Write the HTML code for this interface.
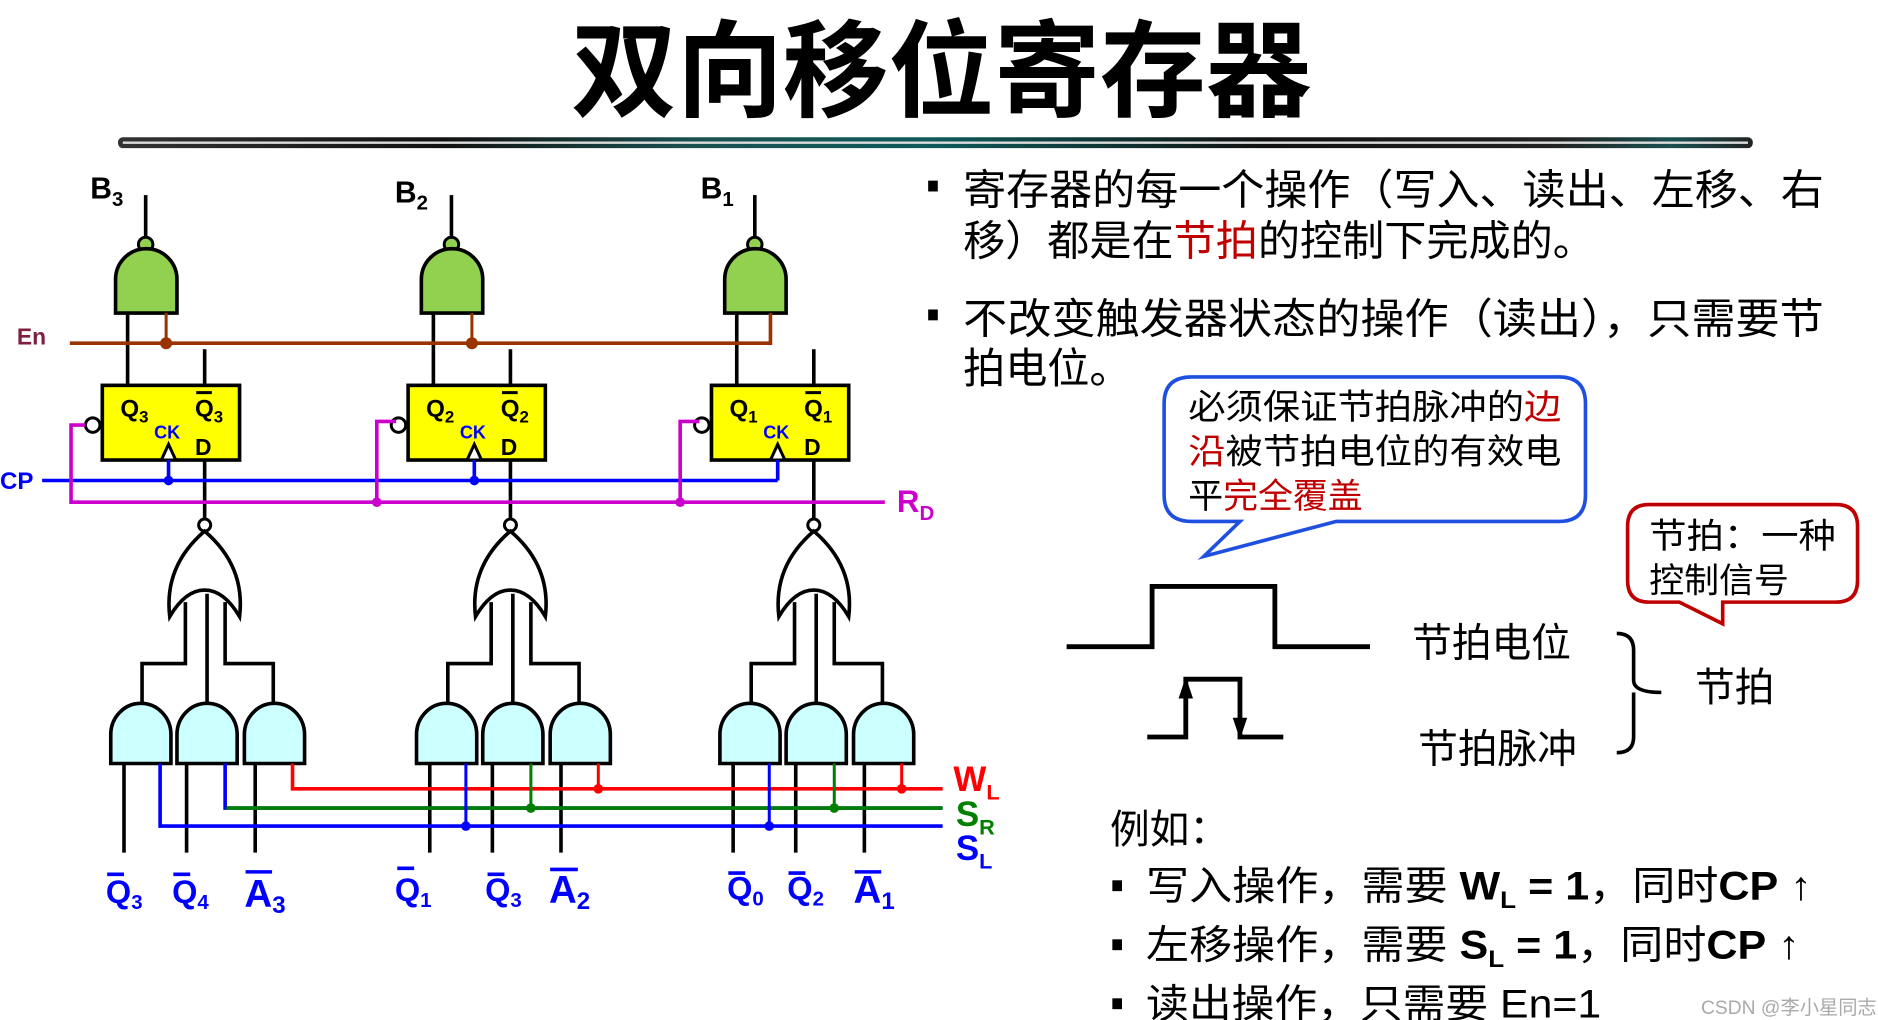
<!DOCTYPE html>
<html><head><meta charset="utf-8"><style>
html,body{margin:0;padding:0;background:#fff;width:1878px;height:1020px;overflow:hidden}
svg{display:block}
text{font-family:"Liberation Sans","Noto Sans CJK SC",sans-serif}
.cj{font-family:"Liberation Sans","Noto Sans CJK SC",sans-serif}
.b{font-weight:bold}
</style></head><body>
<svg width="1878" height="1020" viewBox="0 0 1560 847" preserveAspectRatio="none" xmlns="http://www.w3.org/2000/svg">
<defs>
<linearGradient id="bar" x1="0" x2="1" y1="0" y2="0">
<stop offset="0" stop-color="#333"/><stop offset="0.2" stop-color="#111"/><stop offset="0.35" stop-color="#1a5050"/><stop offset="0.5" stop-color="#0e5a5a"/><stop offset="0.7" stop-color="#111"/><stop offset="0.88" stop-color="#222"/><stop offset="0.95" stop-color="#1a5050"/><stop offset="1" stop-color="#222"/>
</linearGradient>
<g id="blk">
 <line x1="121" y1="162" x2="121" y2="198" stroke="#000" stroke-width="3"/>
 <circle cx="121" cy="203" r="6" fill="#92d050" stroke="#000" stroke-width="2.5"/>
 <path d="M96,260 V232 A25.5,25.5 0 0 1 147,232 V260 Z" fill="#92d050" stroke="#000" stroke-width="3"/>
 <line x1="106" y1="260" x2="106" y2="320" stroke="#000" stroke-width="3"/>
 <line x1="170" y1="290" x2="170" y2="320" stroke="#000" stroke-width="3"/>
 <rect x="85" y="320" width="114" height="62" fill="#ffff00" stroke="#000" stroke-width="3"/>
 <circle cx="77" cy="353" r="6" fill="#fff" stroke="#000" stroke-width="2.5"/>
 <path d="M134,382 L140,369 L146,382 Z" fill="#fff" stroke="#000" stroke-width="2.5"/>
 <line x1="140" y1="382" x2="140" y2="399" stroke="#0000ff" stroke-width="3"/>
 <text x="128" y="364" font-size="15" fill="#0000ff" class="b">CK</text>
 <text x="162" y="378" font-size="19" class="b">D</text>
 <line x1="170" y1="382" x2="170" y2="430" stroke="#000" stroke-width="3"/>
 <circle cx="170" cy="436" r="5" fill="#fff" stroke="#000" stroke-width="2.5"/>
 <path d="M141,512 Q136,470 170,441 Q204,470 199,512 Q186,490 170,490 Q154,490 141,512 Z" fill="#fff" stroke="#000" stroke-width="3"/>
 <path d="M154,500 V551 H118 V588 M172,493 V588 M187,500 V551 H227 V588" fill="none" stroke="#000" stroke-width="3"/>
 <path d="M92,634 V610 A25,26 0 0 1 142,610 V634 Z" fill="#ccffff" stroke="#000" stroke-width="3"/>
 <path d="M147,634 V610 A25,26 0 0 1 197,610 V634 Z" fill="#ccffff" stroke="#000" stroke-width="3"/>
 <path d="M203,634 V610 A25,26 0 0 1 253,610 V634 Z" fill="#ccffff" stroke="#000" stroke-width="3"/>
 <path d="M103,634 V708 M155,634 V708 M212,634 V708" stroke="#000" stroke-width="3"/>
</g>
</defs>

<text x="782" y="90" font-size="88" text-anchor="middle" class="cj b" textLength="615" lengthAdjust="spacingAndGlyphs">双向移位寄存器</text>
<rect x="98" y="114" width="1358" height="9" rx="4" fill="url(#bar)"/>
<line x1="102" y1="118.5" x2="1452" y2="118.5" stroke="#ddd" stroke-width="2"/>

<use href="#blk"/>
<use href="#blk" transform="translate(254,0)"/>
<use href="#blk" transform="translate(506,0)"/>

<text x="75" y="165" font-size="25" class="b">B<tspan font-size="17" dy="6">3</tspan></text>
<text x="328" y="168" font-size="25" class="b">B<tspan font-size="17" dy="6">2</tspan></text>
<text x="582" y="165" font-size="25" class="b">B<tspan font-size="17" dy="6">1</tspan></text>

<g font-size="20" class="b">
<text x="100" y="346">Q<tspan font-size="14" dy="5">3</tspan></text>
<text x="162" y="346">Q<tspan font-size="14" dy="5">3</tspan></text>
<text x="354" y="346">Q<tspan font-size="14" dy="5">2</tspan></text>
<text x="416" y="346">Q<tspan font-size="14" dy="5">2</tspan></text>
<text x="606" y="346">Q<tspan font-size="14" dy="5">1</tspan></text>
<text x="668" y="346">Q<tspan font-size="14" dy="5">1</tspan></text>
</g>
<path d="M163,326 H176 M417,326 H430 M669,326 H682" stroke="#000" stroke-width="2.5"/>

<path d="M138,260 V285 M392,260 V285" stroke="#993300" stroke-width="2.5"/>
<path d="M58,285 H640 V260" fill="none" stroke="#993300" stroke-width="3"/>
<circle cx="138" cy="285" r="5" fill="#993300"/><circle cx="392" cy="285" r="5" fill="#993300"/>
<text x="14" y="286" font-size="19" fill="#7f1f3f" class="b">En</text>
<line x1="35" y1="399" x2="646" y2="399" stroke="#0000ff" stroke-width="3"/>
<circle cx="140" cy="399" r="4" fill="#0000ff"/><circle cx="394" cy="399" r="4" fill="#0000ff"/>
<text x="0" y="406" font-size="20" fill="#0000ff" class="b">CP</text>
<path d="M71,353 H59 V417 H735 M329,350 H313 V417 M581,350 H565 V417" fill="none" stroke="#cc00cc" stroke-width="3"/>
<circle cx="313" cy="417" r="4" fill="#cc00cc"/><circle cx="565" cy="417" r="4" fill="#cc00cc"/>
<text x="745" y="425" font-size="26" fill="#cc00cc" class="b">R<tspan font-size="17" dy="7">D</tspan></text>

<path d="M243,634 V655 H783" fill="none" stroke="#ff0000" stroke-width="3"/>
<path d="M187,634 V671 H783" fill="none" stroke="#0000ff" stroke-width="3"/>
<line x1="188" y1="671" x2="783" y2="671" stroke="#008000" stroke-width="3"/>
<path d="M133,634 V686 H783" fill="none" stroke="#0000ff" stroke-width="3"/>
<path d="M387,634 V686 M639,634 V686" stroke="#0000ff" stroke-width="2.5"/>
<path d="M441,634 V671 M693,634 V671" stroke="#008000" stroke-width="2.5"/>
<path d="M497,634 V655 M749,634 V655" stroke="#ff0000" stroke-width="2.5"/>
<circle cx="387" cy="686" r="4" fill="#0000ff"/><circle cx="639" cy="686" r="4" fill="#0000ff"/>
<circle cx="441" cy="671" r="4" fill="#008000"/><circle cx="693" cy="671" r="4" fill="#008000"/>
<circle cx="497" cy="655" r="4" fill="#ff0000"/><circle cx="749" cy="655" r="4" fill="#ff0000"/>
<text x="792" y="657" font-size="29" fill="#ff0000" class="b">W<tspan font-size="18" dy="7">L</tspan></text>
<text x="794" y="686" font-size="29" fill="#008000" class="b">S<tspan font-size="18" dy="7">R</tspan></text>
<text x="794" y="714" font-size="29" fill="#0000ff" class="b">S<tspan font-size="18" dy="7">L</tspan></text>

<g fill="#0000ff" class="b">
<text x="88" y="750" font-size="27">Q<tspan font-size="17" dy="5">3</tspan></text>
<text x="143" y="750" font-size="27">Q<tspan font-size="17" dy="5">4</tspan></text>
<text x="203" y="753" font-size="32">A<tspan font-size="20" dy="5">3</tspan></text>
<text x="328" y="748" font-size="27">Q<tspan font-size="17" dy="5">1</tspan></text>
<text x="403" y="748" font-size="27">Q<tspan font-size="17" dy="5">3</tspan></text>
<text x="456" y="750" font-size="32">A<tspan font-size="20" dy="5">2</tspan></text>
<text x="604" y="747" font-size="27">Q<tspan font-size="17" dy="5">0</tspan></text>
<text x="654" y="747" font-size="27">Q<tspan font-size="17" dy="5">2</tspan></text>
<text x="709" y="750" font-size="32">A<tspan font-size="20" dy="5">1</tspan></text>
</g>
<path d="M89,726 H103 M144,726 H158 M204,724 H226 M330,721 H344 M405,726 H419 M457,722 H480 M605,725 H619 M655,725 H669 M710,724 H732" stroke="#0000ff" stroke-width="3"/>

<g font-size="35" class="cj">
<rect x="771" y="150" width="8" height="9" fill="#000"/>
<text x="800" y="170" textLength="715" lengthAdjust="spacingAndGlyphs">寄存器的每一个操作（写入、读出、左移、右</text>
<text x="800" y="212">移）都是在<tspan fill="#c00000">节拍</tspan>的控制下完成的。</text>
<rect x="771" y="257" width="8" height="9" fill="#000"/>
<text x="800" y="277" textLength="715" lengthAdjust="spacingAndGlyphs">不改变触发器状态的操作（读出），只需要节</text>
<text x="800" y="318">拍电位。</text>
</g>

<path d="M990,313 H1295 Q1317,313 1317,335 V411 Q1317,433 1295,433 H1110 L1000,462 L1030,433 H990 Q967,433 967,411 V335 Q967,313 990,313 Z" fill="#fff" stroke="#1f4fe0" stroke-width="3"/>
<g font-size="29" class="cj">
<text x="987" y="348" textLength="310" lengthAdjust="spacingAndGlyphs">必须保证节拍脉冲的<tspan fill="#c00000">边</tspan></text>
<text x="987" y="385" textLength="310" lengthAdjust="spacingAndGlyphs"><tspan fill="#c00000">沿</tspan>被节拍电位的有效电</text>
<text x="987" y="422">平<tspan fill="#c00000">完全覆盖</tspan></text>
</g>
<path d="M1370,419 H1525 Q1543,419 1543,437 V482 Q1543,500 1525,500 H1431 V518 L1395,500 H1370 Q1352,500 1352,482 V437 Q1352,419 1370,419 Z" fill="#fff" stroke="#c00000" stroke-width="3"/>
<g font-size="29" class="cj">
<text x="1370" y="455" textLength="155" lengthAdjust="spacingAndGlyphs">节拍：一种</text>
<text x="1370" y="492">控制信号</text>
</g>

<path d="M886,537 H957 V487 H1059 V537 H1138" fill="none" stroke="#000" stroke-width="4"/>
<path d="M953,612 H985 V564 H1030 V612 H1066" fill="none" stroke="#000" stroke-width="4"/>
<path d="M979,580 L985,562 L991,580 Z M1024,596 L1030,614 L1036,596 Z" fill="#000"/>
<g font-size="33" class="cj">
<text x="1173" y="545">节拍电位</text>
<text x="1178" y="633">节拍脉冲</text>
<text x="1408" y="582">节拍</text>
</g>
<path d="M1343,526 Q1357,526 1357,540 V565 Q1357,575 1380,575 M1357,575 Q1357,585 1357,590 V612 Q1357,625 1343,625" fill="none" stroke="#000" stroke-width="3"/>

<g font-size="33" class="cj">
<text x="922" y="700">例如：</text>
<rect x="924" y="731" width="8" height="9" fill="#000"/>
<text x="952" y="747" textLength="553" lengthAdjust="spacingAndGlyphs">写入操作，需要 <tspan class="b">W</tspan><tspan font-size="20" dy="7" class="b">L</tspan><tspan dy="-7" class="b"> = 1</tspan>，同时<tspan class="b">CP</tspan> ↑</text>
<rect x="924" y="780" width="8" height="9" fill="#000"/>
<text x="952" y="796" textLength="543" lengthAdjust="spacingAndGlyphs">左移操作，需要 <tspan class="b">S</tspan><tspan font-size="20" dy="7" class="b">L</tspan><tspan dy="-7" class="b"> = 1</tspan>，同时<tspan class="b">CP</tspan> ↑</text>
<rect x="924" y="829" width="8" height="9" fill="#000"/>
<text x="952" y="845" textLength="378" lengthAdjust="spacingAndGlyphs">读出操作，只需要 En=1</text>
</g>
<text x="1413" y="842" font-size="16" fill="#aaa" class="cj">CSDN @李小星同志</text>
</svg>
</body></html>
